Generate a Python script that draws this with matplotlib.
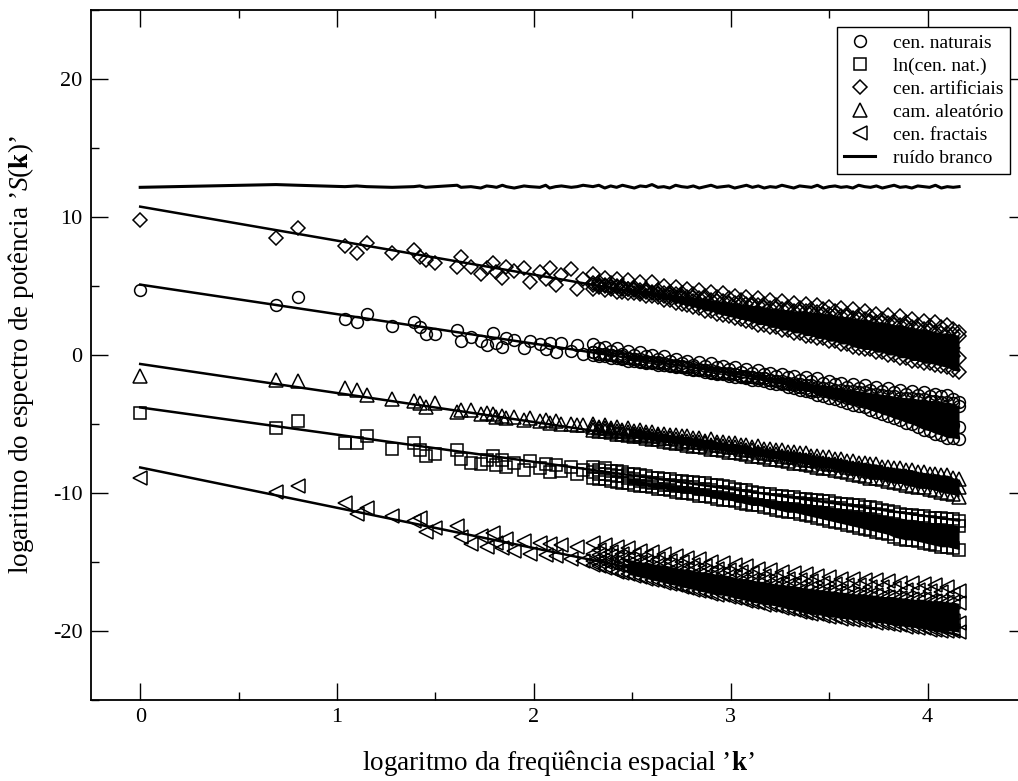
import matplotlib
matplotlib.use('Agg')
import matplotlib.pyplot as plt
from matplotlib.lines import Line2D
from matplotlib.ticker import MultipleLocator

plt.rcParams['font.family'] = 'Liberation Serif'
plt.rcParams['mathtext.fontset'] = 'custom'
plt.rcParams['mathtext.rm'] = 'Liberation Serif'
plt.rcParams['mathtext.it'] = 'Liberation Serif:italic'
plt.rcParams['mathtext.bf'] = 'Liberation Serif:bold'
plt.rcParams['axes.unicode_minus'] = False

# ── frequências (log) ────────────────────────────────────────────
xs_sparse = [0.00, 0.69, 0.80, 1.04, 1.10, 1.15, 1.28, 1.39, 1.42, 1.45,
             1.50, 1.61, 1.63, 1.68, 1.73, 1.76, 1.79, 1.81, 1.84, 1.86,
             1.90, 1.95, 1.98, 2.03, 2.06, 2.08, 2.11, 2.14, 2.19, 2.22,
             2.25]

xs_dense = [2.30, 2.33, 2.36, 2.39, 2.42, 2.45, 2.48, 2.51, 2.54, 2.57,
            2.60, 2.63, 2.66, 2.69, 2.72, 2.75, 2.78, 2.81, 2.84, 2.87,
            2.90, 2.93, 2.96, 2.99, 3.02, 3.05, 3.08, 3.11, 3.14, 3.17,
            3.20, 3.23, 3.26, 3.29, 3.32, 3.35, 3.38, 3.41, 3.44, 3.47,
            3.50, 3.53, 3.56, 3.59, 3.62, 3.65, 3.68, 3.71, 3.74, 3.77,
            3.80, 3.83, 3.86, 3.89, 3.92, 3.95, 3.98, 4.01, 4.04, 4.07,
            4.10, 4.13, 4.16]

# ── cen. naturais ────────────────────────────────────────────────
nat_sparse = [4.7, 3.6, 4.2, 2.6, 2.4, 3.0, 2.1, 2.4, 2.0, 1.5,
              1.5, 1.8, 1.0, 1.3, 1.0, 0.7, 1.6, 0.9, 0.6, 1.2,
              1.1, 0.5, 1.0, 0.8, 0.4, 0.9, 0.2, 0.9, 0.3, 0.7,
              0.1]
nat_top = [0.8, 0.5, 0.6, 0.3, 0.5, 0.1, 0.3, 0.0, 0.2, -0.1,
           0.0, -0.3, -0.1, -0.4, -0.3, -0.6, -0.4, -0.7, -0.5, -0.8,
           -0.6, -0.9, -0.8, -1.0, -0.9, -1.2, -1.0, -1.3, -1.1, -1.4,
           -1.3, -1.5, -1.4, -1.6, -1.5, -1.8, -1.6, -1.9, -1.7, -2.0,
           -1.9, -2.1, -2.0, -2.3, -2.1, -2.4, -2.2, -2.5, -2.3, -2.6,
           -2.4, -2.7, -2.5, -2.8, -2.6, -2.9, -2.7, -3.0, -2.8, -3.0,
           -2.9, -3.2, -3.4]
nat_m1 = [0.2, 0.1, 0.1, 0.0, -0.1, -0.2, -0.2, -0.3, -0.4, -0.5,
          -0.5, -0.6, -0.7, -0.7, -0.8, -0.9, -0.9, -1.0, -1.1, -1.1,
          -1.2, -1.3, -1.3, -1.4, -1.4, -1.5, -1.6, -1.6, -1.7, -1.7,
          -1.8, -1.9, -1.9, -2.0, -2.0, -2.1, -2.2, -2.2, -2.3, -2.4,
          -2.4, -2.5, -2.5, -2.6, -2.6, -2.7, -2.7, -2.8, -2.8, -2.9,
          -3.0, -3.0, -3.1, -3.1, -3.1, -3.2, -3.2, -3.3, -3.3, -3.4,
          -3.4, -3.5, -3.7]
nat_m2 = [0.2, 0.1, 0.1, 0.0, -0.1, -0.1, -0.2, -0.3, -0.3, -0.4,
          -0.5, -0.5, -0.6, -0.7, -0.7, -0.8, -0.9, -0.9, -1.0, -1.1,
          -1.1, -1.2, -1.3, -1.3, -1.4, -1.5, -1.5, -1.6, -1.7, -1.7,
          -1.8, -1.9, -2.0, -2.1, -2.2, -2.3, -2.4, -2.5, -2.6, -2.6,
          -2.7, -2.8, -3.0, -3.1, -3.2, -3.3, -3.4, -3.5, -3.6, -3.7,
          -3.8, -3.9, -4.1, -4.2, -4.3, -4.4, -4.5, -4.6, -4.8, -4.9,
          -5.0, -5.1, -5.2]
nat_low = [0.0, -0.1, -0.1, -0.2, -0.2, -0.3, -0.4, -0.4, -0.5, -0.6,
           -0.6, -0.7, -0.7, -0.8, -0.9, -0.9, -1.0, -1.1, -1.1, -1.2,
           -1.3, -1.4, -1.4, -1.5, -1.6, -1.6, -1.7, -1.8, -1.8, -1.9,
           -2.0, -2.1, -2.1, -2.3, -2.4, -2.5, -2.6, -2.7, -2.9, -3.0,
           -3.1, -3.2, -3.3, -3.5, -3.6, -3.7, -3.8, -4.0, -4.1, -4.3,
           -4.4, -4.6, -4.7, -4.9, -5.0, -5.2, -5.4, -5.5, -5.7, -5.8,
           -6.0, -6.0, -6.1]

# ── ln(cen. nat.) ────────────────────────────────────────────────
sq_sparse = [-4.2, -5.3, -4.8, -6.4, -6.4, -5.9, -6.8, -6.4, -6.9, -7.3,
             -7.2, -6.9, -7.5, -7.8, -7.9, -7.6, -7.3, -8.0, -7.6, -8.1,
             -7.8, -8.3, -7.7, -8.2, -7.9, -8.5, -8.0, -8.4, -8.1, -8.6,
             -8.3]
sq_top = [-8.1, -8.3, -8.2, -8.4, -8.4, -8.5, -8.6, -8.6, -8.7, -8.8,
          -8.9, -8.9, -9.0, -9.0, -9.1, -9.1, -9.2, -9.2, -9.3, -9.3,
          -9.4, -9.4, -9.5, -9.6, -9.7, -9.8, -9.8, -9.9, -10.0, -10.1,
          -10.1, -10.2, -10.2, -10.3, -10.3, -10.4, -10.4, -10.5, -10.5, -10.6,
          -10.6, -10.7, -10.8, -10.8, -10.9, -10.9, -11.0, -11.0, -11.1, -11.2,
          -11.3, -11.4, -11.5, -11.6, -11.6, -11.7, -11.7, -11.8, -11.8, -11.8,
          -11.9, -11.9, -12.0]
sq_mid = [-8.5, -8.6, -8.6, -8.7, -8.8, -8.8, -8.9, -9.0, -9.1, -9.2,
          -9.3, -9.3, -9.4, -9.4, -9.5, -9.5, -9.6, -9.6, -9.7, -9.7,
          -9.8, -9.9, -9.9, -10.0, -10.1, -10.2, -10.2, -10.3, -10.4, -10.4,
          -10.5, -10.5, -10.6, -10.6, -10.7, -10.7, -10.8, -10.8, -10.9, -10.9,
          -11.0, -11.1, -11.1, -11.2, -11.3, -11.3, -11.4, -11.5, -11.5, -11.6,
          -11.7, -11.8, -11.8, -11.9, -11.9, -12.0, -12.1, -12.1, -12.2, -12.2,
          -12.3, -12.3, -12.4]
sq_low = [-8.9, -9.0, -9.0, -9.1, -9.2, -9.3, -9.3, -9.4, -9.5, -9.5,
          -9.6, -9.7, -9.7, -9.8, -9.9, -10.0, -10.0, -10.1, -10.2, -10.2,
          -10.3, -10.4, -10.5, -10.5, -10.6, -10.7, -10.8, -10.9, -10.9, -11.0,
          -11.1, -11.2, -11.3, -11.4, -11.4, -11.5, -11.6, -11.7, -11.8, -11.9,
          -12.0, -12.1, -12.2, -12.3, -12.4, -12.5, -12.6, -12.7, -12.8, -12.9,
          -13.0, -13.2, -13.3, -13.4, -13.4, -13.5, -13.6, -13.7, -13.8, -13.9,
          -13.9, -14.0, -14.1]

# ── cen. artificiais ─────────────────────────────────────────────
art_sparse = [9.8, 8.5, 9.2, 7.9, 7.4, 8.1, 7.4, 7.6, 7.1, 6.9,
              6.7, 6.4, 7.1, 6.4, 5.9, 6.3, 6.7, 6.0, 5.6, 6.4,
              6.1, 6.3, 5.3, 6.0, 5.5, 6.3, 5.1, 5.8, 6.2, 4.8,
              5.5]
art_top = [5.9, 5.3, 5.6, 5.2, 5.5, 5.0, 5.4, 4.9, 5.3, 4.8,
           5.3, 4.7, 5.0, 4.6, 4.9, 4.5, 4.8, 4.4, 4.7, 4.3,
           4.6, 4.2, 4.5, 4.1, 4.3, 4.0, 4.2, 3.8, 4.1, 3.7,
           4.0, 3.6, 3.9, 3.5, 3.8, 3.4, 3.7, 3.3, 3.6, 3.3,
           3.5, 3.2, 3.4, 3.0, 3.3, 2.9, 3.2, 2.8, 3.0, 2.6,
           2.9, 2.5, 2.8, 2.4, 2.6, 2.2, 2.5, 2.1, 2.4, 2.0,
           2.2, 1.9, 1.7]
art_m1 = [5.2, 5.1, 5.1, 5.0, 5.0, 4.9, 4.8, 4.8, 4.7, 4.7,
          4.6, 4.5, 4.5, 4.4, 4.4, 4.3, 4.2, 4.2, 4.1, 4.1,
          4.0, 3.9, 3.9, 3.8, 3.8, 3.7, 3.7, 3.6, 3.6, 3.5,
          3.4, 3.4, 3.3, 3.3, 3.2, 3.2, 3.2, 3.1, 3.1, 3.0,
          3.0, 2.9, 2.8, 2.8, 2.7, 2.6, 2.6, 2.5, 2.4, 2.4,
          2.3, 2.2, 2.2, 2.1, 2.0, 1.9, 1.9, 1.8, 1.7, 1.6,
          1.6, 1.5, 1.4]
art_m2 = [5.1, 5.1, 5.0, 4.9, 4.9, 4.8, 4.8, 4.7, 4.6, 4.6,
          4.5, 4.4, 4.3, 4.2, 4.2, 4.1, 4.0, 3.9, 3.8, 3.7,
          3.6, 3.5, 3.4, 3.3, 3.2, 3.1, 3.0, 2.9, 2.9, 2.8,
          2.7, 2.6, 2.5, 2.4, 2.3, 2.2, 2.2, 2.1, 2.0, 1.9,
          1.8, 1.7, 1.6, 1.6, 1.5, 1.4, 1.3, 1.2, 1.1, 1.0,
          0.9, 0.8, 0.8, 0.7, 0.6, 0.5, 0.4, 0.3, 0.2, 0.1,
          0.1, -0.1, -0.2]
art_low = [4.8, 4.9, 4.7, 4.8, 4.6, 4.6, 4.5, 4.5, 4.4, 4.3,
           4.3, 4.2, 4.0, 4.0, 3.8, 3.7, 3.6, 3.5, 3.4, 3.2,
           3.2, 3.0, 2.9, 2.8, 2.7, 2.6, 2.5, 2.4, 2.2, 2.2,
           2.0, 2.0, 1.8, 1.8, 1.6, 1.6, 1.4, 1.4, 1.2, 1.2,
           1.0, 1.0, 0.8, 0.8, 0.6, 0.5, 0.4, 0.4, 0.2, 0.2,
           0.0, 0.0, -0.2, -0.2, -0.4, -0.4, -0.6, -0.6, -0.7, -0.8,
           -0.9, -1.1, -1.2]

# ── cam. aleatório ───────────────────────────────────────────────
alea_sparse = [-1.5, -1.8, -1.9, -2.4, -2.5, -2.9, -3.2, -3.3, -3.5, -3.8,
               -3.5, -4.1, -4.0, -4.0, -4.3, -4.2, -4.3, -4.5, -4.4, -4.6,
               -4.5, -4.7, -4.6, -4.8, -4.7, -4.9, -4.8, -5.0, -5.0, -5.1,
               -5.1]
alea_top = [-5.0, -5.2, -5.1, -5.3, -5.2, -5.4, -5.3, -5.5, -5.4, -5.6,
            -5.6, -5.7, -5.7, -5.8, -5.8, -5.9, -5.9, -6.0, -6.0, -6.2,
            -6.1, -6.3, -6.3, -6.4, -6.4, -6.5, -6.5, -6.7, -6.6, -6.8,
            -6.8, -6.9, -6.9, -7.0, -7.0, -7.1, -7.1, -7.3, -7.3, -7.4,
            -7.4, -7.5, -7.5, -7.7, -7.7, -7.8, -7.8, -7.9, -7.9, -8.1,
            -8.1, -8.2, -8.2, -8.3, -8.3, -8.5, -8.5, -8.6, -8.6, -8.7,
            -8.7, -8.9, -9.0]
alea_mid = [-5.2, -5.3, -5.3, -5.4, -5.5, -5.5, -5.6, -5.7, -5.7, -5.8,
            -5.9, -5.9, -6.0, -6.0, -6.1, -6.2, -6.2, -6.3, -6.3, -6.4,
            -6.5, -6.5, -6.6, -6.7, -6.7, -6.8, -6.9, -6.9, -7.0, -7.1,
            -7.2, -7.2, -7.3, -7.4, -7.4, -7.5, -7.6, -7.6, -7.7, -7.8,
            -7.9, -7.9, -8.0, -8.1, -8.2, -8.2, -8.3, -8.4, -8.5, -8.5,
            -8.6, -8.7, -8.8, -8.8, -8.9, -9.0, -9.1, -9.1, -9.2, -9.3,
            -9.4, -9.5, -9.6]
alea_low = [-5.4, -5.5, -5.5, -5.6, -5.7, -5.7, -5.8, -5.9, -5.9, -6.0,
            -6.1, -6.1, -6.2, -6.3, -6.4, -6.4, -6.5, -6.6, -6.6, -6.7,
            -6.8, -6.8, -6.9, -7.0, -7.0, -7.1, -7.2, -7.3, -7.3, -7.4,
            -7.5, -7.5, -7.6, -7.7, -7.8, -7.8, -7.9, -8.0, -8.1, -8.2,
            -8.2, -8.3, -8.4, -8.5, -8.6, -8.7, -8.8, -8.9, -8.9, -9.0,
            -9.1, -9.2, -9.3, -9.4, -9.5, -9.6, -9.6, -9.7, -9.8, -9.9,
            -10.0, -10.1, -10.3]

# ── cen. fractais ────────────────────────────────────────────────
frac_sparse = [-8.9, -9.9, -9.5, -10.7, -11.5, -11.1, -11.7, -12.0, -11.8, -12.8,
               -12.5, -12.4, -13.2, -13.7, -13.1, -13.9, -12.9, -13.6, -14.0, -13.3,
               -14.2, -13.5, -14.4, -13.6, -14.5, -13.7, -14.6, -13.8, -14.8, -13.9,
               -14.9]
frac_top = [-13.6, -14.1, -13.8, -14.3, -13.9, -14.4, -14.0, -14.5, -14.2, -14.6,
            -14.3, -14.8, -14.4, -14.9, -14.6, -15.0, -14.7, -15.2, -14.8, -15.3,
            -15.0, -15.5, -15.1, -15.6, -15.2, -15.7, -15.3, -15.8, -15.5, -16.0,
            -15.6, -16.1, -15.7, -16.2, -15.8, -16.3, -15.9, -16.4, -16.0, -16.5,
            -16.1, -16.6, -16.2, -16.7, -16.2, -16.7, -16.3, -16.8, -16.3, -16.8,
            -16.4, -16.9, -16.5, -17.0, -16.5, -17.0, -16.6, -17.1, -16.7, -17.2,
            -16.8, -17.3, -17.1]
frac_m1 = [-14.4, -14.5, -14.5, -14.6, -14.7, -14.8, -14.8, -14.9, -15.0, -15.0,
           -15.1, -15.2, -15.2, -15.3, -15.4, -15.5, -15.5, -15.6, -15.7, -15.7,
           -15.8, -15.9, -15.9, -16.0, -16.1, -16.2, -16.2, -16.3, -16.4, -16.4,
           -16.5, -16.6, -16.6, -16.7, -16.7, -16.8, -16.9, -16.9, -17.0, -17.0,
           -17.1, -17.1, -17.2, -17.2, -17.3, -17.3, -17.3, -17.4, -17.4, -17.5,
           -17.5, -17.5, -17.6, -17.6, -17.7, -17.7, -17.7, -17.8, -17.8, -17.8,
           -17.9, -17.9, -18.0]
frac_m2 = [-14.9, -15.0, -15.0, -15.1, -15.2, -15.3, -15.4, -15.5, -15.6, -15.7,
           -15.8, -15.9, -16.0, -16.1, -16.2, -16.3, -16.4, -16.5, -16.6, -16.7,
           -16.8, -16.8, -16.9, -17.0, -17.1, -17.2, -17.2, -17.3, -17.4, -17.5,
           -17.6, -17.6, -17.7, -17.8, -17.9, -17.9, -18.0, -18.1, -18.2, -18.2,
           -18.3, -18.4, -18.4, -18.5, -18.5, -18.5, -18.6, -18.6, -18.7, -18.7,
           -18.8, -18.8, -18.9, -18.9, -19.0, -19.0, -19.1, -19.1, -19.2, -19.2,
           -19.3, -19.3, -19.4]
frac_low = [-15.2, -15.3, -15.4, -15.5, -15.7, -15.8, -15.9, -16.0, -16.1, -16.2,
            -16.3, -16.4, -16.5, -16.6, -16.7, -16.8, -16.9, -17.0, -17.1, -17.2,
            -17.3, -17.4, -17.4, -17.5, -17.6, -17.7, -17.8, -17.9, -18.0, -18.1,
            -18.1, -18.2, -18.3, -18.4, -18.5, -18.6, -18.7, -18.8, -18.8, -18.9,
            -19.0, -19.0, -19.1, -19.1, -19.2, -19.2, -19.3, -19.3, -19.4, -19.4,
            -19.5, -19.6, -19.6, -19.7, -19.7, -19.8, -19.8, -19.9, -19.9, -20.0,
            -20.0, -20.0, -20.1]

# ── ruído branco ─────────────────────────────────────────────────
wn_sparse = [12.15, 12.35, 12.3, 12.2, 12.25, 12.2, 12.15, 12.2, 12.25, 12.15,
             12.2, 12.3, 12.15, 12.2, 12.1, 12.25, 12.2, 12.15, 12.3, 12.2,
             12.1, 12.25, 12.2, 12.15, 12.3, 12.1, 12.2, 12.25, 12.15, 12.2,
             12.3]
wn_dense = [12.2, 12.3, 12.1, 12.25, 12.15, 12.3, 12.2, 12.1, 12.25, 12.2,
            12.35, 12.15, 12.2, 12.1, 12.3, 12.2, 12.15, 12.25, 12.1, 12.2,
            12.3, 12.15, 12.2, 12.25, 12.1, 12.2, 12.3, 12.15, 12.25, 12.1,
            12.2, 12.15, 12.3, 12.2, 12.1, 12.25, 12.2, 12.15, 12.3, 12.1,
            12.2, 12.25, 12.15, 12.2, 12.1, 12.3, 12.2, 12.15, 12.25, 12.1,
            12.2, 12.3, 12.15, 12.2, 12.1, 12.25, 12.2, 12.15, 12.3, 12.1,
            12.2, 12.15, 12.2]

# retas ajustadas (valor em x=0 e no fim da faixa)
fit_x = [0.0, 4.16]
fit_start = [5.1, -3.8, 10.75, -0.65, -8.15]
fit_end = [-3.8, -12.0, 0.5, -9.4, -20.3]

labels = ['cen. naturais', 'ln(cen. nat.)', 'cen. artificiais',
          'cam. aleatório', 'cen. fractais']
markers = ['o', 's', 'D', '^', '<']
sizes = [8.5, 8, 7.5, 9.5, 9.5]
# (pontos isolados, linhas de pontos densos, faixa sobreposta: índices das linhas)
series = [
    (nat_sparse, [nat_top, nat_m1, nat_m2, nat_low], (1, 3)),
    (sq_sparse, [sq_top, sq_mid, sq_low], (1, 2)),
    (art_sparse, [art_top, art_m1, art_m2, art_low], (1, 3)),
    (alea_sparse, [alea_top, alea_mid, alea_low], (0, 2)),
    (frac_sparse, [frac_top, frac_m1, frac_m2, frac_low], (1, 3)),
]
core_from = 6   # a partir daqui os pontos se sobrepõem numa mancha

fig = plt.figure(figsize=(10.18, 7.81), dpi=100)
fig.patch.set_facecolor('white')
ax = fig.add_axes([91 / 1018, 1 - 700 / 781, 935 / 1018, 690 / 781])

# ruído branco
ax.plot(xs_sparse + xs_dense, wn_sparse + wn_dense, color='black', lw=2.2, zorder=3)

# retas de ajuste
for y0, y1 in zip(fit_start, fit_end):
    ax.plot(fit_x, [y0, y1], color='black', lw=1.8, zorder=3)

# pontos dos espectros
for (sp, rows, (hi, lo)), mk, ms in zip(series, markers, sizes):
    xx = list(xs_sparse)
    yy = list(sp)
    for row in rows:
        xx += xs_dense
        yy += row
    ax.fill_between(xs_dense[core_from:], rows[hi][core_from:], rows[lo][core_from:],
                    color='black', lw=0, zorder=2)
    ax.plot(xx, yy, linestyle='none', marker=mk, ms=ms, mfc='none',
            mec='black', mew=1.1, zorder=2)

ax.set_xlim(-0.25, 4.5)
ax.set_ylim(-25, 25)
ax.xaxis.set_major_locator(MultipleLocator(1))
ax.xaxis.set_minor_locator(MultipleLocator(0.5))
ax.yaxis.set_major_locator(MultipleLocator(10))
ax.yaxis.set_minor_locator(MultipleLocator(5))
ax.tick_params(which='both', direction='in', top=True, right=True,
               width=1.0, labelsize=16, pad=6)
ax.tick_params(which='major', length=12)
ax.tick_params(which='minor', length=6)
for sp in ax.spines.values():
    sp.set_linewidth(1.3)

ax.set_xlabel('logaritmo da freqüência espacial ’$\\mathbf{k}$’', fontsize=19.5, labelpad=15)
ax.set_ylabel('logaritmo do espectro de potência ’$\\mathit{S}$($\\mathbf{k}$)’',
              fontsize=19.5, labelpad=12)

handles = [Line2D([], [], linestyle='none', marker=mk, ms=ms, mfc='none',
                  mec='black', mew=1.1) for mk, ms in zip(markers, sizes)]
handles.append(Line2D([], [], color='black', lw=2.2))
leg = ax.legend(handles, labels + ['ruído branco'], loc='upper right',
                bbox_to_anchor=(0.983, 0.975), borderaxespad=0, fontsize=14,
                frameon=True, fancybox=False, framealpha=1, edgecolor='black',
                handlelength=1.6, labelspacing=0.28, handletextpad=0.9,
                borderpad=0.35)
leg.get_frame().set_linewidth(1.0)

fig.savefig('out.png', dpi=100, facecolor='white')
